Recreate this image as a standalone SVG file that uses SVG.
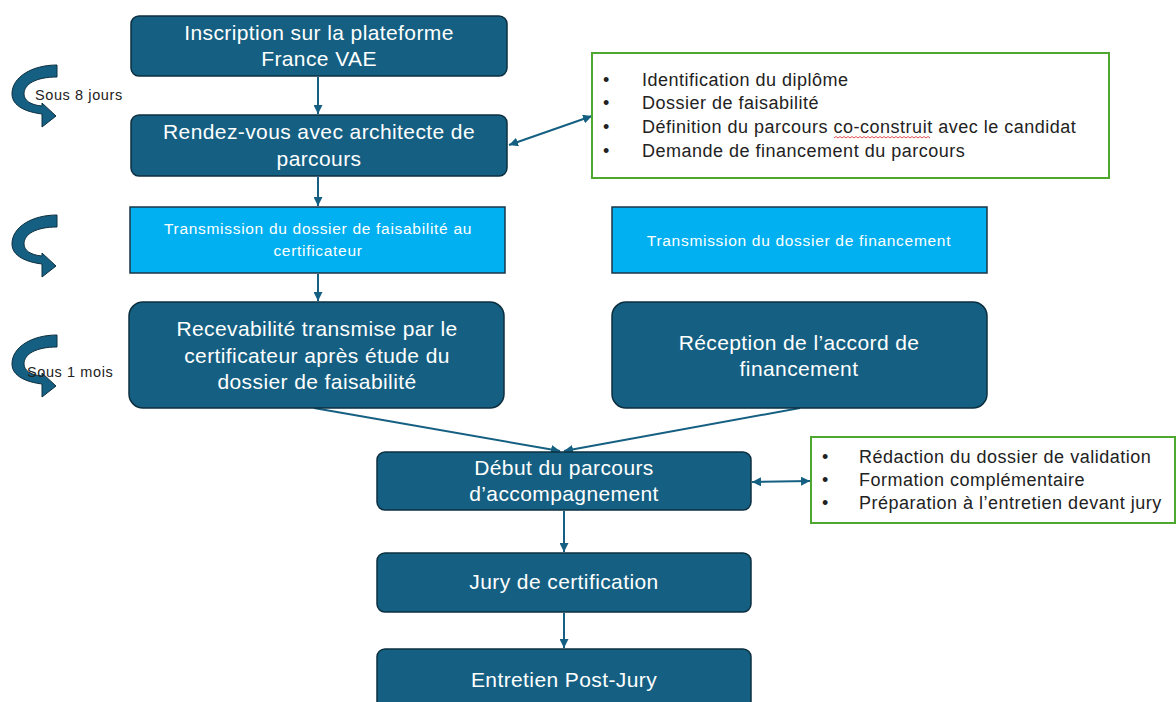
<svg xmlns="http://www.w3.org/2000/svg" width="1176" height="702" viewBox="0 0 1176 702">
<style>
.dk{fill:#156082;stroke:#0c2f40;stroke-width:1.5}
.lb{fill:#00b0f0;stroke:#1b3545;stroke-width:1.5}
.gb{fill:#fff;stroke:#4ea72e;stroke-width:2}
.t{font-family:"Liberation Sans",Arial,sans-serif;fill:#fff;text-anchor:middle}
.t20{font-size:21px;letter-spacing:0.4px}
.t13{font-size:15.5px;letter-spacing:0.7px}
.li{font-family:"Liberation Sans",Arial,sans-serif;font-size:18px;letter-spacing:0.5px;fill:#222}
.lbl{font-family:"Liberation Sans",Arial,sans-serif;font-size:14.5px;letter-spacing:0.6px;fill:#222}
.c{stroke:#156082;stroke-width:2;fill:none}
.ca{fill:#156082;stroke:#0c2f40;stroke-width:1}
</style>
<defs>
<marker id="ah" viewBox="0 0 10 10" refX="10" refY="5" markerWidth="9" markerHeight="9" markerUnits="userSpaceOnUse" orient="auto-start-reverse">
<path d="M0,0 L10,5 L0,10 z" fill="#156082"/>
</marker>
<path id="curv" d="M57 0 C32 0 12 12 12 29 C12 41 26 47 42 49 L42 62 L56 51 L42 38 L42 41 C30 40 24 35 24 29 C24 19 36 12 57 12 Z"/>
</defs>
<rect width="1176" height="702" fill="#fff"/>

<g id="connectors">
<line class="c" x1="318" y1="77" x2="318" y2="114" marker-end="url(#ah)"/>
<line class="c" x1="318" y1="177" x2="318" y2="206" marker-end="url(#ah)"/>
<line class="c" x1="318" y1="274" x2="318" y2="301" marker-end="url(#ah)"/>
<line class="c" x1="509" y1="145" x2="592" y2="116" marker-start="url(#ah)" marker-end="url(#ah)"/>
<line class="c" x1="314" y1="408" x2="560" y2="451" marker-end="url(#ah)"/>
<line class="c" x1="800" y1="408" x2="564" y2="451" marker-end="url(#ah)"/>
<line class="c" x1="752" y1="482" x2="810" y2="481" marker-start="url(#ah)" marker-end="url(#ah)"/>
<line class="c" x1="564" y1="511" x2="564" y2="552" marker-end="url(#ah)"/>
<line class="c" x1="564" y1="613" x2="564" y2="648" marker-end="url(#ah)"/>
</g>

<g id="delay1">
<use href="#curv" class="ca" transform="translate(0,65)"/>
<text class="lbl" x="35" y="100">Sous 8 jours</text>
</g>
<g id="delay2">
<use href="#curv" class="ca" transform="translate(0,215)"/>
</g>
<g id="delay3">
<use href="#curv" class="ca" transform="translate(0,335)"/>
<text class="lbl" x="27" y="377">Sous 1 mois</text>
</g>

<g id="n1">
<rect class="dk" x="131" y="16" width="376" height="60" rx="8"/>
<text class="t t20" x="319" y="40">Inscription sur la plateforme</text>
<text class="t t20" x="319" y="66">France VAE</text>
</g>
<g id="n2">
<rect class="dk" x="131" y="115" width="376" height="61" rx="8"/>
<text class="t t20" x="319" y="139">Rendez-vous avec architecte de</text>
<text class="t t20" x="319" y="166">parcours</text>
</g>
<g id="n3">
<rect class="gb" x="592" y="53" width="517" height="125"/>
<text class="li" x="603" y="86">•</text><text class="li" x="642" y="86">Identification du diplôme</text>
<text class="li" x="603" y="109">•</text><text class="li" x="642" y="109">Dossier de faisabilité</text>
<text class="li" x="603" y="133">•</text><text class="li" x="642" y="133">Définition du parcours co-construit avec le candidat</text>
<text class="li" x="603" y="157">•</text><text class="li" x="642" y="157">Demande de financement du parcours</text>
<path d="M834 138 l2 -1.5 l2 1.5 l2 -1.5 l2 1.5 l2 -1.5 l2 1.5 l2 -1.5 l2 1.5 l2 -1.5 l2 1.5 l2 -1.5 l2 1.5 l2 -1.5 l2 1.5 l2 -1.5 l2 1.5 l2 -1.5 l2 1.5 l2 -1.5 l2 1.5 l2 -1.5 l2 1.5 l2 -1.5 l2 1.5 l2 -1.5 l2 1.5 l2 -1.5 l2 1.5 l2 -1.5 l2 1.5 l2 -1.5 l2 1.5 l2 -1.5 l2 1.5 l2 -1.5 l2 1.5 l2 -1.5 l2 1.5 l2 -1.5 l2 1.5 l2 -1.5 l2 1.5 l2 -1.5 l2 1.5 l2 -1.5 l2 1.5 l2 -1.5 l2 1.5" fill="none" stroke="#e03c3c" stroke-width="0.9"/>
</g>
<g id="n4">
<rect class="lb" x="130" y="207" width="375" height="66"/>
<text class="t t13" x="318" y="234">Transmission du dossier de faisabilité au</text>
<text class="t t13" x="318" y="256">certificateur</text>
</g>
<g id="n5">
<rect class="lb" x="612" y="207" width="375" height="66"/>
<text class="t t13" x="799" y="246">Transmission du dossier de financement</text>
</g>
<g id="n6">
<rect class="dk" x="129" y="302" width="375" height="106" rx="14"/>
<text class="t t20" x="317" y="336">Recevabilité transmise par le</text>
<text class="t t20" x="317" y="363">certificateur après étude du</text>
<text class="t t20" x="317" y="389">dossier de faisabilité</text>
</g>
<g id="n7">
<rect class="dk" x="612" y="302" width="375" height="106" rx="14"/>
<text class="t t20" x="799" y="350">Réception de l’accord de</text>
<text class="t t20" x="799" y="376">financement</text>
</g>
<g id="n8">
<rect class="dk" x="377" y="452" width="374" height="58" rx="8"/>
<text class="t t20" x="564" y="475">Début du parcours</text>
<text class="t t20" x="564" y="501">d’accompagnement</text>
</g>
<g id="n9">
<rect class="gb" x="811" y="437" width="364" height="86"/>
<text class="li" x="822" y="463">•</text><text class="li" x="859" y="463">Rédaction du dossier de validation</text>
<text class="li" x="822" y="486">•</text><text class="li" x="859" y="486">Formation complémentaire</text>
<text class="li" x="822" y="509">•</text><text class="li" x="859" y="509">Préparation à l’entretien devant jury</text>
</g>
<g id="n10">
<rect class="dk" x="377" y="553" width="374" height="59" rx="8"/>
<text class="t t20" x="564" y="589">Jury de certification</text>
</g>
<g id="n11">
<rect class="dk" x="377" y="649" width="374" height="64" rx="8"/>
<text class="t t20" x="564" y="687">Entretien Post-Jury</text>
</g>
</svg>
